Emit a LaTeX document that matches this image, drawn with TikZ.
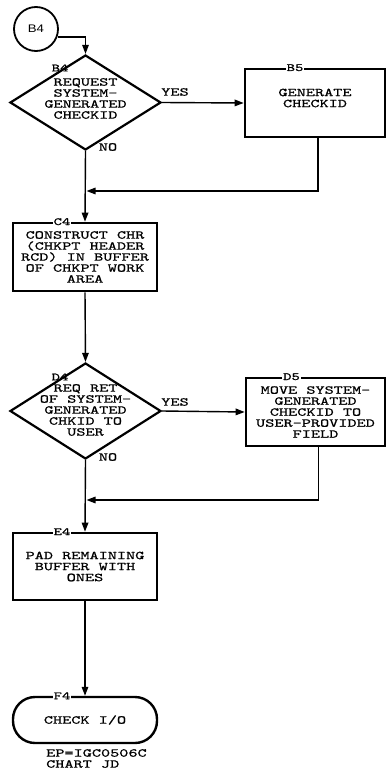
\documentclass[tikz,border=0pt]{standalone}
\usepackage{fontspec}
\usetikzlibrary{arrows.meta,shapes.geometric,calc,positioning}
\newfontfamily\chartfont{lmmono10-regular.otf}[FakeStretch=1.45,FakeBold=0.8]
\newfontfamily\circfont{Liberation Sans}[FakeStretch=1.2]
\newcommand\boxfont{\chartfont\fontsize{12}{11}\selectfont}
\newcommand\tagfont{\chartfont\fontsize{11}{11}\selectfont}

\begin{document}
\begin{tikzpicture}[x=1pt, y=-1pt,
  flow/.style={line width=1.4pt, -{Triangle[length=9pt,width=6.5pt]}},
  procbox/.style={draw, line width=2.6pt, minimum width=144pt, minimum height=68pt, inner sep=0pt, align=center, font=\boxfont},
  decision/.style={draw, diamond, line width=2.2pt, minimum width=151pt, minimum height=95pt, inner sep=0pt},
  dtext/.style={align=center, inner sep=0pt, font=\boxfont},
  tag/.style={fill=white, inner sep=1pt, font=\tagfont},
  note/.style={inner sep=0pt, font=\boxfont},
  conn/.style={draw, shape=circle, line width=1.8pt, minimum size=44pt, inner sep=0pt, font=\circfont\fontsize{11}{11}\selectfont},
  term/.style={draw, line width=2.4pt, rounded corners=22pt, minimum width=144pt, minimum height=46pt, inner sep=0pt, font=\boxfont}]

\useasboundingbox (0,0) rectangle (388,781);

% ----- ROW B: connector, decision B4, box B5 -----
\node[conn] (b4c) at (36,29) {B4};
\node[decision] (b4) at (85.5,102.5) {};
\node[dtext] (b4t) at ([yshift=4pt]b4.center) {REQUEST\\SYSTEM-\\GENERATED\\CHECKID};
\node[note, font=\tagfont] (b4l) at (60,68) {B4};
\node[procbox, minimum width=140pt] (b5) at (315,103) {};
\node[dtext] (b5t) at ([yshift=5pt]b5.center) {GENERATE\\CHECKID};
\node[tag] (b5l) at ([xshift=-20pt]b5.north) {B5};

\draw[flow] (b4c.-20) -| (b4.north);
\draw[flow] (b4.east) -- (b5.west);
\node[note] (yes1) at (175,92) {YES};
\node[note] (no1) at (108,147) {NO};

% join from B5 back to main line
\coordinate (j1) at (86.5,191);
\draw[flow] ([xshift=3pt]b5.south) |- (j1);

% ----- ROW C: box C4 -----
\node[procbox] (c4) at (85,257) {CONSTRUCT CHR\\(CHKPT HEADER\\RCD) IN BUFFER\\OF CHKPT WORK\\AREA};
\node[tag] (c4l) at ([xshift=-23pt]c4.north) {C4};
\draw[flow] (b4.south) -- (c4.north);

% ----- ROW D: decision D4, box D5 -----
\node[decision, minimum height=96pt] (d4) at (85.5,411) {};
\node[dtext] (d4t) at ([yshift=1pt]d4.center) {REQ RET\\OF SYSTEM-\\GENERATED\\CHKID TO\\USER};
\node[note, font=\tagfont] (d4l) at (60,377) {D4};
\node[procbox, minimum width=139pt] (d5) at (315.5,412) {MOVE SYSTEM-\\GENERATED\\CHECKID TO\\USER-PROVIDED\\FIELD};
\node[tag] (d5l) at ([xshift=-24pt]d5.north) {D5};

\draw[flow] (c4.south) -- (d4.north);
\draw[flow] (d4.east) -- (d5.west);
\node[note] (yes2) at (175,402) {YES};
\node[note] (no2) at (108,457) {NO};

% join from D5 back to main line
\coordinate (j2) at (86.5,500);
\draw[flow] ([xshift=3pt]d5.south) |- (j2);

% ----- ROW E: box E4 -----
\node[procbox, minimum height=67pt] (e4) at (85,566.5) {PAD REMAINING\\BUFFER WITH\\ONES};
\node[tag] (e4l) at ([xshift=-23pt]e4.north) {E4};
\draw[flow] (d4.south) -- (e4.north);

% ----- ROW F: terminal F4 -----
\node[term] (f4) at (85,720) {CHECK I/O};
\node[tag] (f4l) at ([xshift=-23pt]f4.north) {F4};
\draw[flow] (e4.south) -- (f4.north);

\node[note, align=left, anchor=north west] (ep) at (46,749) {EP=IGC0506C\\CHART JD};

\end{tikzpicture}
\end{document}
